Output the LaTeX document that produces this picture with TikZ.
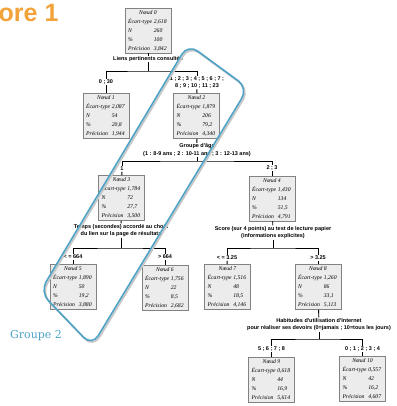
\documentclass[tikz,border=0pt]{standalone}
\usepackage{fontspec}
\setmainfont{Liberation Serif}
\newfontfamily\lsans{Liberation Sans}
\newfontfamily\grpfont{DejaVu Serif}
\definecolor{boxfill}{RGB}{236,236,236}
\definecolor{boxline}{RGB}{130,130,130}
\definecolor{grpblue}{RGB}{78,163,198}
\definecolor{orng}{RGB}{241,163,58}
\newcommand\ndtext[5]{\begin{tabular}{@{}p{25.7pt}@{}p{14pt}@{}}\multicolumn{2}{@{}c@{}}{Nœud #1}\\ Écart-type & #2\\ N & #3\\ \% & #4\\ Précision & #5\end{tabular}}
\begin{document}
\begin{tikzpicture}[x=1pt,y=-1pt,
  box/.style={draw=boxline, fill=boxfill, line width=0.8pt, minimum width=46pt, minimum height=45pt, inner sep=0pt, font=\fontsize{5.7}{8.9}\selectfont\itshape},
  crit/.style={font=\lsans\bfseries\fontsize{5.5}{7.4}\selectfont, align=center, inner sep=0.6pt},
  cond/.style={font=\lsans\bfseries\fontsize{5.5}{7.6}\selectfont, align=center, inner sep=0.6pt},
  link/.style={line width=0.9pt, black},
  grp/.style={draw=grpblue, line width=1.6pt, rounded corners=12pt},
  grpshadow/.style={draw=black!22, line width=1.8pt, rounded corners=12pt}]
\useasboundingbox (0,0) rectangle (396,406);

\node[anchor=base west, inner sep=0pt, font=\lsans\bfseries\fontsize{25}{25}\selectfont, text=orng] (title) at (-1.5,22) {ore 1};

\node[box] (n0) at (148,30.5) {\ndtext{0}{2,618}{260}{100}{3,842}};
\node[crit] (q0) at (148,59) {Liens pertinents consultés};
\coordinate (b0) at (148,71);
\node[cond] (c1) at (106,82) {0 ; 30};
\node[cond] (c2) at (197,82.5) {1 ; 2 ; 3 ; 4 ; 5 ; 6 ; 7 ;\\8 ; 9 ; 10 ; 11 ; 23};
\node[box] (n1) at (106,116) {\ndtext{1}{2,087}{54}{20,8}{1,944}};
\node[box] (n2) at (196.5,116) {\ndtext{2}{1,879}{206}{79,2}{4,340}};

\node[crit] (q2) at (197,150) {Groupe d'âge\\(1 : 8-9 ans ; 2 : 10-11 ans ; 3 : 12-13 ans)};
\coordinate (b2) at (197,161);
\node[cond] (c3) at (122,169) {1};
\node[cond] (c4) at (272,168) {2 ; 3};
\node[box] (n3) at (121.5,198) {\ndtext{3}{1,784}{72}{27,7}{3,500}};
\node[box] (n4) at (272,198.5) {\ndtext{4}{1,430}{134}{51,5}{4,791}};

\node[crit] (q3) at (121,230.5) {Temps (secondes) accordé au choix\\du lien sur la page de résultats};
\coordinate (b3) at (121,248);
\node[cond] (c5) at (73,257) {< = 664};
\node[cond] (c6) at (165,257) {> 664};
\node[box] (n5) at (73,287) {\ndtext{5}{1,890}{50}{19,2}{3,880}};
\node[box] (n6) at (165,288) {\ndtext{6}{1,756}{22}{8,5}{2,682}};

\node[crit] (q4) at (273,232.5) {Score (sur 4 points) au test de lecture papier\\(informations explicites)};
\coordinate (b4) at (273,248);
\node[cond] (c7) at (227,258) {< = 3.25};
\node[cond] (c8) at (318,258) {> 3.25};
\node[box] (n7) at (227.5,287) {\ndtext{7}{1,516}{48}{18,5}{4,146}};
\node[box] (n8) at (318,287) {\ndtext{8}{1,260}{86}{33,1}{5,113}};

\node[crit] (q8) at (319,324.5) {Habitudes d'utilisation d'Internet\\pour réaliser ses devoirs (0=jamais ; 10=tous les jours)};
\coordinate (b8) at (319,339);
\node[cond] (c9) at (271.5,349) {5 ; 6 ; 7 ; 8};
\node[cond] (c10) at (362.5,349) {0 ; 1 ; 2 ; 3 ; 4};
\node[box] (n9) at (271.5,379.5) {\ndtext{9}{0,618}{44}{16,9}{5,614}};
\node[box] (n10) at (362.5,379) {\ndtext{10}{0,557}{42}{16,2}{4,607}};

% connectors
\draw[link] (n0) -- (q0);
\draw[link] (q0) -- (b0);
\draw[link] (c1.north) |- (b0) -| (c2.north);
\draw[link] (c1) -- (n1);
\draw[link] (c2) -- (n2);

\draw[link] (n2) -- (q2);
\draw[link] (q2) -- (b2);
\draw[link] (c3.north) |- (b2) -| (c4.north);
\draw[link] (c3) -- (n3);
\draw[link] (c4) -- (n4);

\draw[link] (n3) -- (q3);
\draw[link] (q3) -- (b3);
\draw[link] (c5.north) |- (b3) -| (c6.north);
\draw[link] (c5) -- (n5);
\draw[link] (c6) -- (n6);

\draw[link] (n4) -- (q4);
\draw[link] (q4) -- (b4);
\draw[link] (c7.north) |- (b4) -| (c8.north);
\draw[link] (c7) -- (n7);
\draw[link] (c8) -- (n8);

\draw[link] (n8) -- (q8);
\draw[link] (q8) -- (b8);
\draw[link] (c9.north) |- (b8) -| (c10.north);
\draw[link] (c9) -- (n9);
\draw[link] (c10) -- (n10);

% group outline
\draw[grpshadow] (189.2,45.5) -- (249.2,89.5) -- (93.2,347.5) -- (41.2,293.5) -- cycle;
\draw[grp] (188,44) -- (248,88) -- (92,346) -- (40,292) -- cycle;
\node[anchor=base west, inner sep=0pt, font=\grpfont\fontsize{11}{11}\selectfont, text=grpblue] (g2) at (10,338) {Groupe 2};
\end{tikzpicture}
\end{document}
